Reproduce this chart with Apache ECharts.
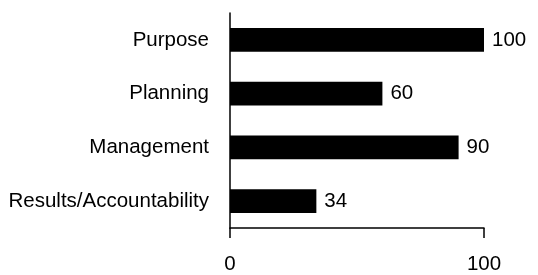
<!DOCTYPE html>
<html>
<head>
<meta charset="utf-8">
<script src="https://cdn.jsdelivr.net/npm/echarts@6/dist/echarts.min.js"></script>
<style>
  html, body { margin: 0; padding: 0; background: #fff; }
  #chart-1 { width: 538px; height: 275px; }
</style>
</head>
<body>
<div id="chart-1"></div>
<script>
const categories = ['Purpose', 'Planning', 'Management', 'Results/Accountability'];
const scores = [100, 60, 90, 34];

const TheChart = echarts.init(document.getElementById('chart-1'));
const font = '"Liberation Sans", Arial, sans-serif';

TheChart.setOption({
    animation: false,
    grid: { left: 230, right: 54, top: 13, bottom: 45 },
    xAxis: {
        type: 'value',
        min: 0,
        max: 100,
        interval: 100,
        axisLine: { show: true, lineStyle: { color: '#000', width: 1.5 } },
        axisTick: { show: true, length: 10, lineStyle: { color: '#000', width: 1.5 } },
        axisLabel: { color: '#000', fontSize: 20.5, fontFamily: font, margin: 26 },
        splitLine: { show: false }
    },
    yAxis: {
        type: 'category',
        inverse: true,
        data: categories,
        axisLine: { show: true, lineStyle: { color: '#000', width: 1.5 } },
        axisTick: { show: false },
        axisLabel: { color: '#000', fontSize: 20.5, fontFamily: font, margin: 21 }
    },
    series: [{
        name: 'Score',
        type: 'bar',
        data: scores,
        barCategoryGap: '56%',
        itemStyle: { color: '#000' },
        label: {
            show: true,
            position: 'right',
            distance: 8,
            color: '#000',
            fontSize: 20.5,
            fontFamily: font
        }
    }]
});
</script>
</body>
</html>
